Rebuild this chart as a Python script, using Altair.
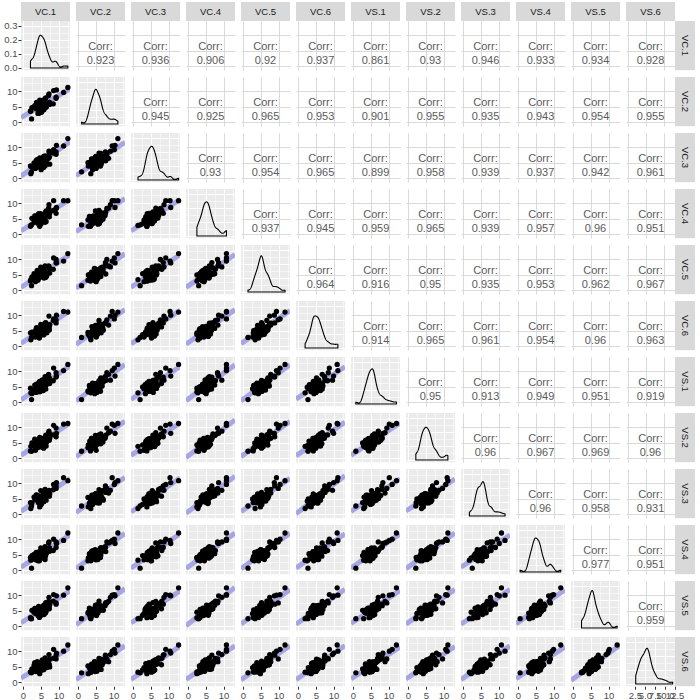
import altair as alt
import pandas as pd

# ---------------- data (values read / estimated from the reference) ----------------
names = ["VC.1", "VC.2", "VC.3", "VC.4", "VC.5", "VC.6",
         "VS.1", "VS.2", "VS.3", "VS.4", "VS.5", "VS.6"]

VC_1 = [2.4, 2.2, 2.1, 4.7, 3.5, 4.6, 2.5, 4.2, 5.1, 3.6,
        4.7, 3.1, 5.8, 4.4, 3.7, 5.2, 6.2, 4.2, 3.7, 4.9,
        5.9, 4.2, 4.6, 5.7, 3.3, 5.3, 6.0, 3.8, 5.0, 5.7,
        4.7, 6.5, 4.4, 5.4, 6.3, 4.7, 4.0, 5.8, 6.7, 5.4,
        6.4, 4.7, 5.8, 7.5, 5.4, 6.5, 5.0, 7.4, 6.4, 7.4,
        6.2, 8.5, 7.2, 9.3, 7.3, 9.3, 9.4, 8.6, 11.4, 12.6]
VC_2 = [1.0, 3.6, 3.5, 2.9, 5.1, 3.6, 4.7, 2.8, 4.1, 4.8,
        3.3, 4.7, 4.2, 5.6, 5.3, 3.2, 4.8, 5.2, 4.3, 6.3,
        4.1, 5.0, 6.0, 3.9, 5.3, 4.1, 5.0, 6.4, 3.8, 5.5,
        6.1, 4.9, 5.8, 3.8, 4.9, 6.5, 6.2, 4.8, 5.7, 4.6,
        6.0, 7.1, 5.0, 5.7, 7.0, 4.9, 6.8, 6.4, 7.8, 6.4,
        7.6, 5.9, 8.6, 7.7, 9.1, 8.1, 10.4, 10.2, 9.6, 11.2]
VC_3 = [2.0, 1.4, 3.9, 3.9, 3.1, 5.2, 3.5, 5.0, 2.7, 4.2,
        5.1, 4.9, 3.4, 4.0, 5.7, 4.8, 4.0, 6.0, 5.1, 3.9,
        5.7, 3.6, 5.4, 5.1, 4.5, 6.1, 4.0, 4.8, 5.8, 6.5,
        4.5, 5.5, 4.0, 6.2, 5.3, 4.5, 6.0, 6.6, 4.5, 5.8,
        5.2, 6.5, 7.0, 4.5, 6.2, 6.7, 5.4, 6.8, 5.6, 8.0,
        7.2, 8.1, 6.4, 8.5, 8.7, 7.7, 10.6, 9.2, 10.4, 12.8]
VC_4 = [3.0, 2.8, 2.5, 2.5, 4.5, 3.4, 5.1, 4.6, 3.3, 4.0,
        5.7, 3.7, 4.8, 3.2, 4.7, 5.6, 3.8, 4.4, 5.9, 4.3,
        4.7, 5.6, 3.4, 5.5, 5.9, 4.7, 5.4, 4.2, 4.4, 6.3,
        5.3, 4.1, 6.6, 4.8, 5.9, 6.1, 4.2, 5.4, 5.9, 5.0,
        6.6, 5.5, 5.2, 6.7, 4.8, 7.5, 6.6, 5.6, 7.2, 7.0,
        6.0, 7.7, 8.4, 6.7, 9.5, 8.3, 8.6, 10.8, 10.8, 10.8]
VC_5 = [1.4, 3.4, 2.9, 4.9, 2.7, 4.4, 4.3, 3.2, 5.3, 3.0,
        4.1, 5.3, 5.2, 3.8, 3.3, 5.0, 6.0, 3.6, 4.9, 5.3,
        3.9, 6.0, 5.2, 4.5, 3.9, 5.7, 6.4, 4.4, 5.2, 4.9,
        6.3, 4.3, 5.4, 5.8, 4.1, 5.7, 6.4, 5.0, 4.7, 7.0,
        5.0, 5.9, 6.8, 5.5, 6.8, 5.3, 7.4, 7.0, 5.2, 7.2,
        7.8, 6.7, 7.8, 8.9, 7.5, 9.9, 8.8, 10.4, 9.4, 11.8]
VC_6 = [2.8, 2.0, 4.3, 3.7, 2.9, 2.6, 4.5, 4.4, 3.7, 5.0,
        3.1, 4.5, 3.6, 5.4, 5.1, 4.2, 5.8, 3.2, 5.5, 4.7,
        5.1, 3.8, 5.6, 6.3, 4.3, 5.1, 4.6, 6.0, 4.2, 3.9,
        5.7, 6.3, 5.0, 4.4, 6.7, 4.3, 5.8, 5.6, 4.3, 6.4,
        6.8, 5.1, 6.2, 6.9, 5.8, 5.7, 7.0, 5.2, 7.6, 6.2,
        7.4, 8.3, 6.8, 7.5, 9.7, 8.5, 10.0, 8.8, 11.2, 11.0]
VS_1 = [0.8, 3.0, 4.5, 3.3, 4.3, 4.8, 2.7, 3.6, 4.9, 5.4,
        4.9, 3.5, 5.6, 4.8, 3.1, 5.4, 4.4, 5.6, 4.1, 3.5,
        6.1, 5.2, 4.0, 3.7, 5.5, 4.7, 6.0, 5.8, 4.6, 5.3,
        3.9, 5.7, 6.2, 4.6, 5.7, 6.7, 4.6, 4.4, 6.1, 6.0,
        4.2, 6.5, 5.4, 6.1, 7.2, 5.5, 5.2, 7.8, 7.0, 6.0,
        8.2, 6.9, 9.0, 8.1, 7.1, 9.5, 8.4, 11.0, 10.2, 12.2]
VS_2 = [2.2, 3.8, 2.3, 4.3, 2.5, 4.0, 4.9, 3.4, 4.3, 3.2,
        5.5, 3.9, 3.2, 5.0, 4.9, 3.6, 5.4, 4.8, 3.9, 5.7,
        4.5, 5.4, 5.8, 4.1, 6.1, 3.7, 5.4, 4.6, 6.4, 4.5,
        5.3, 3.9, 6.0, 6.4, 4.7, 5.5, 5.0, 6.2, 5.3, 4.2,
        6.2, 6.7, 4.8, 6.3, 5.2, 7.3, 6.4, 5.8, 7.4, 7.8,
        6.4, 7.5, 8.2, 6.9, 8.7, 9.7, 8.0, 10.6, 11.0, 11.2]
VS_3 = [2.6, 1.8, 3.7, 2.3, 4.9, 4.2, 3.7, 5.4, 3.1, 4.6,
        3.7, 5.5, 4.6, 3.6, 5.5, 3.4, 5.2, 4.2, 6.1, 4.5,
        5.5, 4.4, 3.6, 6.1, 5.1, 5.5, 4.2, 6.2, 4.0, 5.5,
        5.9, 4.5, 5.6, 4.2, 6.5, 5.5, 6.0, 4.0, 6.5, 5.2,
        5.8, 4.5, 6.6, 6.5, 5.0, 5.9, 7.6, 6.0, 7.0, 5.8,
        8.0, 7.9, 6.8, 9.1, 7.7, 8.3, 10.2, 9.6, 11.8, 10.8]
VS_4 = [0.6, 3.2, 4.1, 3.9, 3.3, 3.0, 4.7, 3.0, 4.7, 4.4,
        5.3, 5.1, 3.8, 3.4, 5.7, 5.2, 3.4, 5.0, 4.9, 4.1,
        5.9, 4.0, 5.0, 5.3, 3.9, 6.3, 5.6, 4.8, 6.0, 4.3,
        4.9, 6.1, 4.6, 6.0, 4.5, 5.9, 4.4, 6.6, 5.7, 5.2,
        6.6, 6.1, 4.6, 6.1, 6.6, 5.3, 7.2, 7.2, 6.0, 7.2,
        7.6, 6.3, 8.8, 7.3, 9.1, 9.1, 8.6, 10.0, 9.6, 12.0]
VS_5 = [2.4, 2.4, 2.7, 4.5, 4.1, 2.8, 5.1, 4.2, 3.5, 5.2,
        3.5, 4.5, 5.4, 4.2, 5.1, 5.8, 4.2, 3.4, 5.5, 5.1,
        3.7, 5.8, 5.4, 4.3, 5.7, 4.5, 6.2, 5.2, 3.8, 5.9,
        5.5, 4.7, 6.4, 5.4, 4.3, 6.1, 5.8, 4.8, 6.7, 4.8,
        5.8, 5.1, 6.8, 7.1, 5.6, 6.7, 5.4, 6.6, 7.6, 5.6,
        6.6, 8.1, 8.0, 7.1, 9.3, 7.5, 9.8, 10.2, 10.0, 12.4]
VS_6 = [3.0, 3.2, 3.3, 2.7, 4.7, 3.2, 4.3, 5.2, 3.9, 3.4,
        4.5, 5.5, 4.0, 5.2, 3.5, 5.0, 5.6, 4.0, 5.3, 5.9,
        4.3, 6.0, 4.2, 5.3, 6.3, 3.9, 5.2, 5.6, 4.4, 6.1,
        5.5, 5.9, 4.2, 5.8, 5.5, 4.1, 6.6, 5.8, 4.7, 6.6,
        4.8, 6.3, 6.0, 4.9, 7.2, 6.5, 5.6, 7.4, 6.8, 5.6,
        7.8, 7.7, 6.6, 8.7, 8.9, 7.5, 9.4, 10.6, 10.0, 12.0]

# upper-triangle correlations, row by row (row variable vs later columns)
corr_rows = [
    ["0.923", "0.936", "0.906", "0.92", "0.937", "0.861", "0.93", "0.946", "0.933", "0.934", "0.928"],
    ["0.945", "0.925", "0.965", "0.953", "0.901", "0.955", "0.935", "0.943", "0.954", "0.955"],
    ["0.93", "0.954", "0.965", "0.899", "0.958", "0.939", "0.937", "0.942", "0.961"],
    ["0.937", "0.945", "0.959", "0.965", "0.939", "0.957", "0.96", "0.951"],
    ["0.964", "0.916", "0.95", "0.935", "0.953", "0.962", "0.967"],
    ["0.914", "0.965", "0.961", "0.954", "0.96", "0.963"],
    ["0.95", "0.913", "0.949", "0.951", "0.919"],
    ["0.96", "0.967", "0.969", "0.96"],
    ["0.96", "0.958", "0.931"],
    ["0.977", "0.951"],
    ["0.959"],
]

series = [VC_1, VC_2, VC_3, VC_4, VC_5, VC_6, VS_1, VS_2, VS_3, VS_4, VS_5, VS_6]
fields = [n.replace(".", "_") for n in names]
df = pd.DataFrame({f: s for f, s in zip(fields, series)})

# ---------------- styling ----------------
W, H = 49, 49.2
N = len(names)
XD = [-0.56, 13.2]          # scatter / corr x domain
YD = [-1.35, 14.6]          # scatter / corr y domain
DD = [-0.016, 0.335]        # density y domain
XL = [0.25, 12.6]           # last diagonal panel x domain
GRIDV = [0, 2.5, 5, 7.5, 10, 12.5]
DENSV = [0, 0.05, 0.1, 0.15, 0.2, 0.25, 0.3]
LASTV = [2.5, 5, 7.5, 10, 12.5]
MAJ5 = "datum.value % 5 === 0"
MAJD = "abs(datum.value * 10 - round(datum.value * 10)) < 0.001"
MAJL = "datum.value % 2.5 === 0"
BG = "#EBEBEB"
STRIP = "#D9D9D9"
BAND = "#A6A6E4"
LABC = "#4D4D4D"
TICKC = "#333333"
FS = 9.5
FONT = "Liberation Sans"
BW = 0.55


def make_axis(values, test, show, fmt_expr, grid_color="white", major_only=False):
    kw = dict(values=values, title=None, domain=False, grid=True, gridColor=grid_color,
              gridWidth=1 if major_only else {"condition": {"test": test, "value": 1.1}, "value": 0.55},
              labelFlush=False, labelOverlap=False)
    if show:
        kw.update(labels=True, ticks=True, tickSize=3, tickColor=TICKC, tickWidth=1,
                  tickOpacity={"condition": {"test": test, "value": 1}, "value": 0},
                  labelExpr=f"({test}) ? {fmt_expr} : ''", labelColor=LABC,
                  labelFontSize=FS, labelPadding=1, labelFont=FONT)
    else:
        kw.update(labels=False, ticks=False)
    return alt.Axis(**kw)


def strips(i, j):
    out = []
    if i == 0:
        d = pd.DataFrame({"lab": [names[j]]})
        out.append(alt.Chart(d).mark_rect(color=STRIP).encode(
            x=alt.value(0), x2=alt.value(W), y=alt.value(-19), y2=alt.value(0)))
        out.append(alt.Chart(d).mark_text(color="#1A1A1A", fontSize=FS, font=FONT,
                                          baseline="middle", align="center").encode(
            text="lab:N", x=alt.value(W / 2), y=alt.value(-9.5)))
    if j == N - 1:
        d = pd.DataFrame({"lab": [names[i]]})
        out.append(alt.Chart(d).mark_rect(color=STRIP).encode(
            x=alt.value(W), x2=alt.value(W + 20), y=alt.value(0), y2=alt.value(H)))
        out.append(alt.Chart(d).mark_text(color="#1A1A1A", fontSize=FS, font=FONT, angle=90,
                                          baseline="middle", align="center").encode(
            text="lab:N", x=alt.value(W + 10), y=alt.value(H / 2)))
    return out


def scatter(i, j):
    xf, yf = fields[j], fields[i]
    xs = alt.Scale(domain=XD, nice=False, zero=False)
    ys = alt.Scale(domain=YD, nice=False, zero=False)
    xa = make_axis(GRIDV, MAJ5, i == N - 1, "'' + datum.value")
    ya = make_axis(GRIDV, MAJ5, j == 0, "'' + datum.value")
    base = alt.Chart(df)
    band = base.transform_regression(xf, yf, extent=XD).mark_line(
        color=BAND, strokeWidth=5, clip=True).encode(
        x=alt.X(f"{xf}:Q", scale=xs, axis=xa), y=alt.Y(f"{yf}:Q", scale=ys, axis=ya))
    pts = base.mark_circle(size=28, color="black", opacity=1).encode(
        x=alt.X(f"{xf}:Q", scale=xs, axis=xa), y=alt.Y(f"{yf}:Q", scale=ys, axis=ya))
    return alt.layer(band, pts, *strips(i, j)).properties(
        width=W, height=H, view=alt.ViewBackground(fill=BG, stroke=None))


def density(i):
    f = fields[i]
    last = i == N - 1
    if last:
        xs = alt.Scale(domain=XL, nice=False, zero=False)
        xa = make_axis(LASTV, MAJL, True, "format(datum.value, '.1f')", major_only=True)
    else:
        xs = alt.Scale(domain=XD, nice=False, zero=False)
        xa = make_axis(GRIDV, MAJ5, False, "''")
    ys = alt.Scale(domain=DD, nice=False, zero=False)
    ya = make_axis(DENSV, MAJD, i == 0, "format(datum.value, '.1f')")
    dens = alt.Chart(df).transform_density(f, as_=[f, "density"], bandwidth=BW).mark_area(
        fillOpacity=0, stroke="black", strokeWidth=1.1, clip=True).encode(
        x=alt.X(f"{f}:Q", scale=xs, axis=xa), y=alt.Y("density:Q", scale=ys, axis=ya))
    return alt.layer(dens, *strips(i, i)).properties(
        width=W, height=H, view=alt.ViewBackground(fill=BG, stroke=None))


def corr(i, j):
    xs = alt.Scale(domain=XD, nice=False, zero=False)
    ys = alt.Scale(domain=YD, nice=False, zero=False)
    xa = make_axis([0, 5, 10], MAJ5, False, "''", grid_color="#D9D9D9", major_only=True)
    ya = make_axis([0, 5, 10], MAJ5, False, "''", grid_color="#D9D9D9", major_only=True)
    hidden = alt.Chart(df).mark_point(opacity=0).encode(
        x=alt.X(f"{fields[j]}:Q", scale=xs, axis=xa), y=alt.Y(f"{fields[i]}:Q", scale=ys, axis=ya))
    d = pd.DataFrame({"t": ["Corr:\n" + corr_rows[i][j - i - 1]]})
    txt = alt.Chart(d).mark_text(color="#5A5A5A", fontSize=11, font=FONT, lineBreak="\n",
                                 lineHeight=14.5, baseline="middle", align="center").encode(
        text="t:N", x=alt.value(W / 2), y=alt.value(H / 2 + 1))
    return alt.layer(hidden, txt, *strips(i, j)).properties(
        width=W, height=H, view=alt.ViewBackground(fill="white", stroke=None))


cells = []
for i in range(N):
    for j in range(N):
        if i > j:
            cells.append(scatter(i, j))
        elif i == j:
            cells.append(density(i))
        else:
            cells.append(corr(i, j))

chart = alt.concat(*cells, columns=N, spacing=6, bounds="flush").properties(
    padding={"left": 3, "top": 2, "right": 2, "bottom": 2},
    background="white",
).configure(font=FONT).configure_view(stroke=None)

chart.save("out.html", embed_options={"renderer": "svg", "actions": False})
